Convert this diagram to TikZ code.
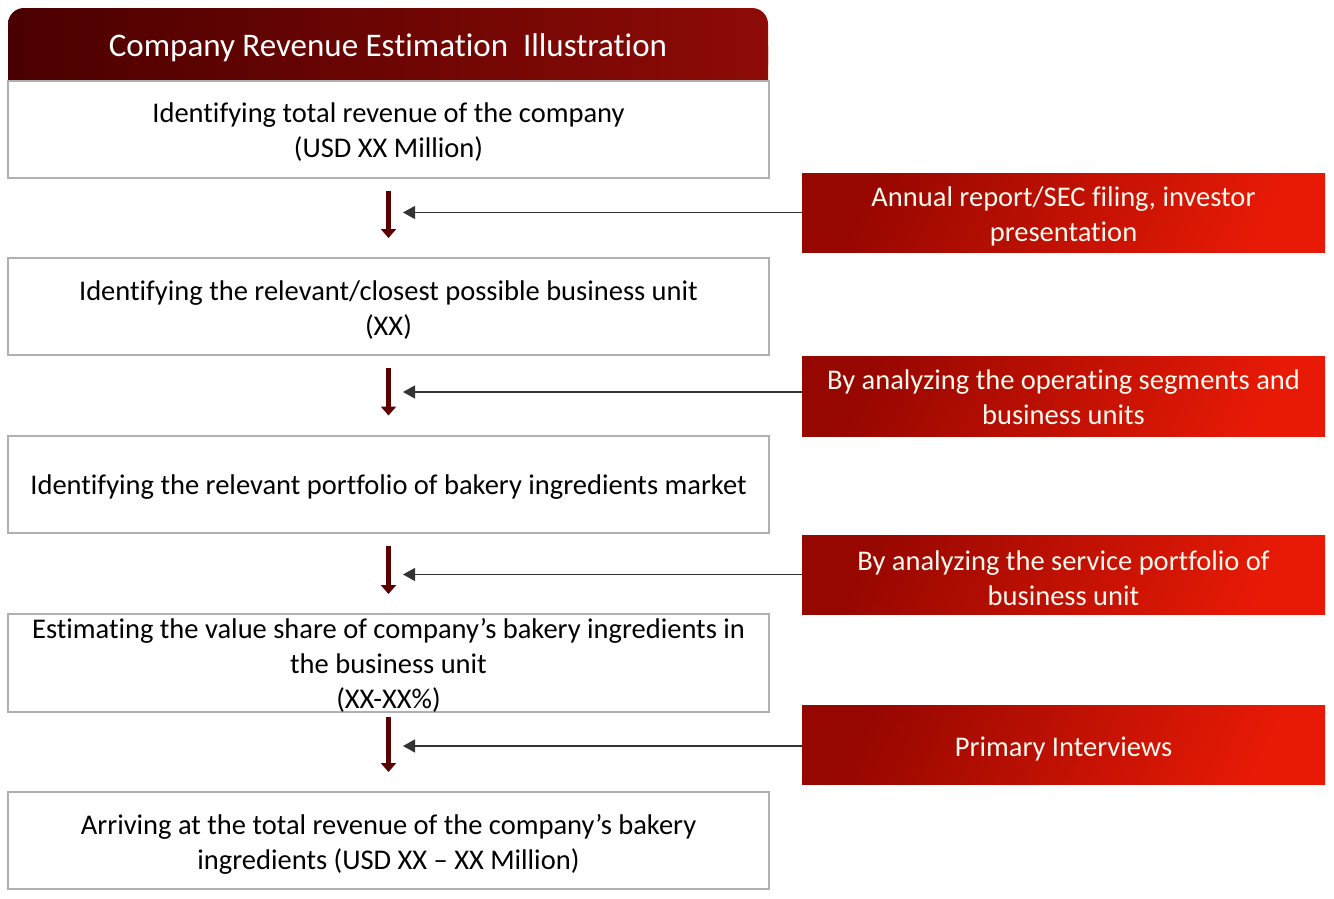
\documentclass[tikz,border=0pt]{standalone}
\usepackage{fontspec}
\setmainfont{Carlito}[Ligatures=NoCommon]
\usetikzlibrary{arrows.meta}
\definecolor{hdL}{HTML}{4A0000}
\definecolor{hdR}{HTML}{8E0B06}
\definecolor{rdL}{HTML}{960700}
\definecolor{rdR}{HTML}{E81A06}
\definecolor{arr}{HTML}{5A0000}
\definecolor{bord}{HTML}{B0B0B0}
\definecolor{cream}{HTML}{FFF8EE}
\newcommand{\wup}{\rule{0pt}{26pt}}
\newcommand{\rup}{\rule{0pt}{28pt}}
\tikzset{
  wbox/.style={draw=bord, line width=2pt, fill=white, minimum width=761pt, minimum height=97pt,
    inner sep=0pt, align=center, font=\fontsize{28.5}{35}\selectfont, text=black},
  rbox/.style={left color=rdL, right color=rdR, shading angle=65, minimum width=523pt, minimum height=79pt,
    inner sep=0pt, align=center, font=\fontsize{28.5}{35}\selectfont, text=cream},
  downarr/.style={draw=arr, line width=5.5pt, -{Triangle[width=15pt,length=9pt]}, shorten <=12pt, shorten >=19pt},
  feed/.style={draw=black!80, line width=1.2pt, -{Triangle[width=13pt,length=12pt]}},
}
\begin{document}
\begin{tikzpicture}[x=1pt,y=-1pt]
\useasboundingbox (0,0) rectangle (1334,898);
% header
\shade[left color=hdL, right color=hdR, rounded corners=16pt] (8,8) rectangle (768,81);
\shade[left color=hdL, right color=hdR] (8,45) rectangle (768,81);
\node[text=white, font=\fontsize{33}{35}\selectfont] (title) at (388,47.5) {Company Revenue Estimation\ \ Illustration};
% white boxes
\node[wbox] (b1) at (388.5,129) {\wup Identifying total revenue of the company\\(USD XX Million)};
\node[wbox] (b2) at (388.5,306.5) {\wup Identifying the relevant/closest possible business unit\\(XX)};
\node[wbox] (b3) at (388.5,484) {\wup Identifying the relevant portfolio of bakery ingredients market};
\node[wbox, minimum height=98pt] (b4) at (388.5,663) {\rule{0pt}{24pt}Estimating the value share of company’s bakery ingredients in\\the business unit\\(XX-XX\%)};
\node[wbox] (b5) at (388.5,840.5) {\rule{0pt}{28pt}Arriving at the total revenue of the company’s bakery\\ingredients (USD XX -- XX Million)};
% red boxes
\node[rbox] (r1) at (1063.5,212.5) {\rup Annual report/SEC filing, investor\\presentation};
\node[rbox, minimum height=80pt] (r2) at (1063.5,396) {\rule{0pt}{22pt}By analyzing the operating segments and\\business units};
\node[rbox] (r3) at (1063.5,574.5) {\rule{0pt}{27pt}By analyzing the service portfolio of\\business unit};
\node[rbox] (r4) at (1063.5,745) {\rup Primary Interviews};
% down arrows
\draw[downarr] (b1.south) -- (b2.north);
\draw[downarr] (b2.south) -- (b3.north);
\draw[downarr] (b3.south) -- (b4.north);
\draw[downarr] ([yshift=8pt]b4.south) -- (b5.north);
% feed arrows
\coordinate (t1) at (403,212.5);
\coordinate (t2) at (403,392);
\coordinate (t3) at (403,574.5);
\coordinate (t4) at (403,746);
\draw[feed] (r1.west) -- (t1);
\draw[feed] (r2.west |- t2) -- (t2);
\draw[feed] (r3.west) -- (t3);
\draw[feed] (r4.west |- t4) -- (t4);
\end{tikzpicture}
\end{document}
